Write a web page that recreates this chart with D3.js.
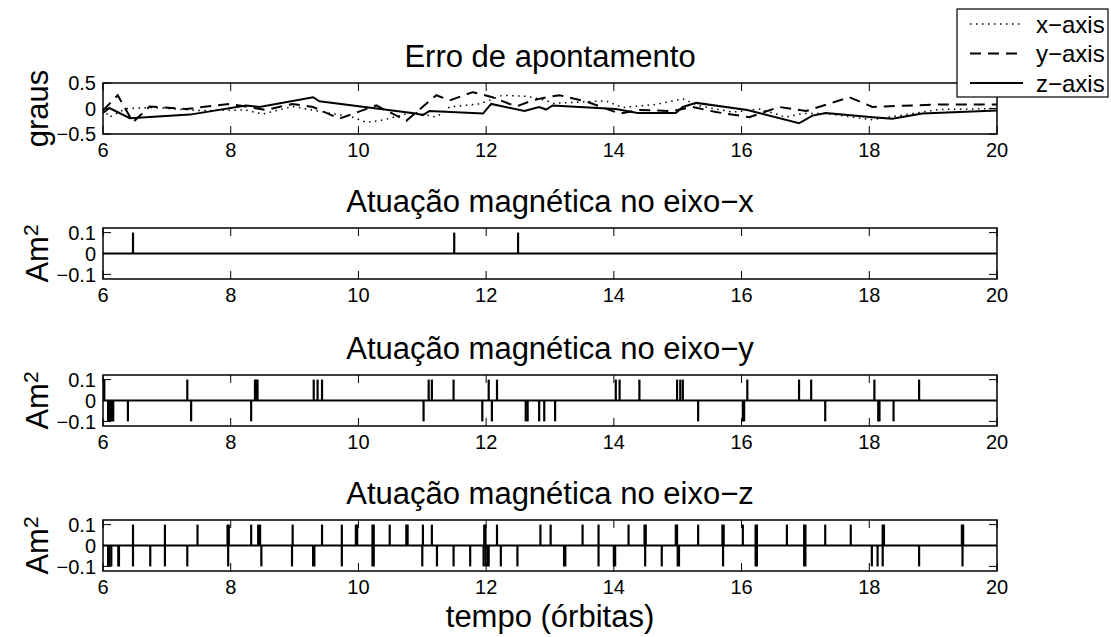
<!DOCTYPE html>
<html>
<head>
<meta charset="utf-8">
<script src="https://cdn.jsdelivr.net/npm/d3@7"></script>
<style>
  body { margin: 0; background: #fff; }
  text { font-family: "Liberation Sans", Arial, Helvetica, sans-serif; fill: #000; }
</style>
</head>
<body>
<div id="chart"></div>
<script>
// ---- data ----
const xTicks = [6, 8, 10, 12, 14, 16, 18, 20];
const errTicks = [-0.5, 0, 0.5];
const actTicks = [-0.1, 0, 0.1];
const seriesNames = ["x\u2212axis", "y\u2212axis", "z\u2212axis"];

// pointing error (graus), [tempo, valor]
const errX = [[6, 0], [6.10, -0.17], [6.36, 0], [6.78, 0.02], [7.51, -0.04], [8.24, -0.03], [8.50, -0.11],
  [8.97, 0.04], [9.50, -0.08], [9.91, -0.17], [10.12, -0.27], [10.33, -0.24], [10.59, -0.16], [10.85, -0.07],
  [11.22, -0.17], [11.43, 0.03], [11.90, 0.09], [12.26, 0.26], [12.63, 0.24], [12.94, 0.16], [13.04, 0.10],
  [13.87, 0.15], [14.14, 0.02], [14.66, 0.08], [15.08, 0.19], [15.34, 0.05], [15.86, -0.07], [16.29, -0.01],
  [16.69, -0.17], [16.95, -0.10], [17.32, -0.10], [18.05, -0.22], [18.36, -0.16], [19.09, -0.02], [20, 0]];
const errY = [[6, -0.04], [6.23, 0.26], [6.47, -0.27], [6.73, 0.04], [7.30, -0.01], [7.98, 0.09], [8.24, 0.04],
  [8.55, -0.03], [8.97, 0.09], [9.29, 0.03], [9.70, -0.20], [10.28, 0.06], [10.75, -0.24], [11.22, 0.26],
  [11.43, 0.16], [11.79, 0.32], [12.10, 0.22], [12.47, 0.04], [12.73, 0.16], [12.94, 0.22], [13.15, 0.26],
  [13.56, 0.14], [14.09, -0.10], [14.40, -0.03], [14.92, -0.05], [15.23, 0.03], [15.60, -0.07], [16.12, -0.17],
  [16.59, 0.03], [17.01, -0.05], [17.69, 0.22], [18.05, 0.03], [19.09, 0.08], [20, 0.08]];
const errZ = [[6, -0.09], [6.10, 0.01], [6.42, -0.19], [7.36, -0.12], [8.24, 0.06], [8.45, 0.03], [9.29, 0.22],
  [9.39, 0.14], [10.90, -0.10], [11.01, -0.13], [11.11, -0.05], [11.95, -0.10], [12.08, 0.09], [12.60, -0.05],
  [12.83, 0.03], [12.94, -0.02], [13.04, 0.06], [14.03, -0.01], [14.37, -0.09], [14.97, -0.09], [15.08, 0.03],
  [15.29, 0.11], [16.09, -0.03], [16.90, -0.29], [17.11, -0.14], [17.32, -0.09], [18.05, -0.17], [18.36, -0.20],
  [18.83, -0.10], [20, -0.04]];

// magnetic actuation pulses (Am^2): instants of +0.1 and -0.1
const magXUp = [6.47, 11.5, 12.5];
const magXDown = [];
const magYUp = [6.02, 7.32, 8.38, 8.40, 8.42, 9.30, 9.36, 9.43, 11.10, 11.15, 11.49, 12.04, 12.17, 14.03, 14.09,
  14.40, 14.99, 15.04, 15.08, 16.09, 16.90, 17.09, 18.08, 18.78];
const magYDown = [6.08, 6.11, 6.14, 6.16, 6.39, 7.38, 8.32, 11.02, 11.94, 12.09, 12.62, 12.65, 12.83, 12.91, 13.08,
  15.32, 16.02, 16.04, 17.31, 18.14, 18.16, 18.38];
const magZUp = [6.47, 6.97, 7.48, 7.95, 7.97, 8.32, 8.43, 8.46, 8.97, 9.43, 9.74, 9.96, 9.98, 10.22, 10.24, 10.49,
  10.75, 10.77, 11.01, 11.15, 11.97, 11.99, 12.17, 12.85, 13.01, 13.51, 13.76, 14.23, 14.48, 14.50, 14.97, 14.99,
  15.32, 15.70, 15.72, 16.02, 16.22, 16.24, 16.71, 16.98, 17.00, 17.31, 17.71, 18.21, 18.23, 19.45, 19.47];
const magZDown = [6.08, 6.10, 6.13, 6.24, 6.25, 6.47, 6.74, 6.97, 7.32, 7.96, 8.48, 8.96, 9.29, 9.31, 9.74, 10.22,
  10.24, 11.00, 11.23, 11.49, 11.75, 11.96, 11.99, 12.02, 12.04, 12.23, 12.49, 13.22, 13.24, 13.76, 14.00, 14.02,
  14.49, 14.75, 15.00, 15.02, 15.71, 16.22, 16.24, 16.98, 17.00, 18.04, 18.13, 18.21, 18.78, 19.46];

// ---- layout ----
const width = 1111, height = 637;
const left = 103, right = 997, boxH = 51;
const tickLen = 8;

const svg = d3.select("#chart").append("svg")
  .attr("width", width)
  .attr("height", height);

const x = d3.scaleLinear().domain([6, 20]).range([left, right]);

const panels = [
  { top: 83, title: "Erro de apontamento", ylabel: "graus", domain: [-0.5, 0.5], ticks: errTicks },
  { top: 228, title: "Atua\u00e7\u00e3o magn\u00e9tica no eixo\u2212x", ylabel: "Am", domain: [-0.122, 0.122], ticks: actTicks, up: magXUp, down: magXDown },
  { top: 375, title: "Atua\u00e7\u00e3o magn\u00e9tica no eixo\u2212y", ylabel: "Am", domain: [-0.122, 0.122], ticks: actTicks, up: magYUp, down: magYDown },
  { top: 520, title: "Atua\u00e7\u00e3o magn\u00e9tica no eixo\u2212z", ylabel: "Am", domain: [-0.122, 0.122], ticks: actTicks, up: magZUp, down: magZDown }
];

const minusFmt = v => (v < 0 ? "\u2212" : "") + Math.abs(v);

panels.forEach((p, i) => {
  const y = d3.scaleLinear().domain(p.domain).range([p.top + boxH, p.top]);
  const g = svg.append("g");

  // ticks (inside, on all four sides like matlab's box on)
  xTicks.forEach(t => {
    g.append("line").attr("x1", x(t)).attr("x2", x(t))
      .attr("y1", p.top + boxH).attr("y2", p.top + boxH - tickLen)
      .attr("stroke", "#000").attr("stroke-width", 1);
    g.append("line").attr("x1", x(t)).attr("x2", x(t))
      .attr("y1", p.top).attr("y2", p.top + tickLen)
      .attr("stroke", "#000").attr("stroke-width", 1);
    g.append("text").attr("x", x(t)).attr("y", p.top + boxH + 23)
      .attr("text-anchor", "middle").style("font-size", "20px").text(t);
  });
  p.ticks.forEach(v => {
    g.append("line").attr("x1", left).attr("x2", left + tickLen)
      .attr("y1", y(v)).attr("y2", y(v)).attr("stroke", "#000").attr("stroke-width", 1);
    g.append("line").attr("x1", right).attr("x2", right - tickLen)
      .attr("y1", y(v)).attr("y2", y(v)).attr("stroke", "#000").attr("stroke-width", 1);
    g.append("text").attr("x", left - 7).attr("y", y(v)).attr("dy", "0.36em")
      .attr("text-anchor", "end").style("font-size", "20px").text(minusFmt(v));
  });

  const clipId = "clip" + i;
  svg.append("clipPath").attr("id", clipId).append("rect")
    .attr("x", left).attr("y", p.top).attr("width", right - left).attr("height", boxH);
  const plot = g.append("g").attr("clip-path", `url(#${clipId})`);

  if (i === 0) {
    const line = d3.line().x(d => x(d[0])).y(d => y(d[1]));
    plot.append("path").datum(errX).attr("d", line).attr("fill", "none")
      .attr("stroke", "#000").attr("stroke-width", 1.5).attr("stroke-dasharray", "1.5,4.5");
    plot.append("path").datum(errY).attr("d", line).attr("fill", "none")
      .attr("stroke", "#000").attr("stroke-width", 2).attr("stroke-dasharray", "11,7");
    plot.append("path").datum(errZ).attr("d", line).attr("fill", "none")
      .attr("stroke", "#000").attr("stroke-width", 2);
  } else {
    plot.append("line").attr("x1", x(6)).attr("x2", x(20))
      .attr("y1", y(0)).attr("y2", y(0)).attr("stroke", "#000").attr("stroke-width", 2);
    const pulses = p.up.map(t => [t, 0.1]).concat(p.down.map(t => [t, -0.1]));
    plot.selectAll(".pulse").data(pulses).enter().append("line")
      .attr("x1", d => x(d[0])).attr("x2", d => x(d[0]))
      .attr("y1", y(0)).attr("y2", d => y(d[1]))
      .attr("stroke", "#000").attr("stroke-width", 2.2);
  }

  // box
  g.append("rect").attr("x", left).attr("y", p.top).attr("width", right - left).attr("height", boxH)
    .attr("fill", "none").attr("stroke", "#000").attr("stroke-width", 1.5);

  // title
  g.append("text").attr("x", (left + right) / 2).attr("y", p.top - 16)
    .attr("text-anchor", "middle").style("font-size", "31px").text(p.title);

  // y label
  const yl = g.append("text")
    .attr("transform", `translate(48,${p.top + boxH / 2}) rotate(-90)`)
    .attr("text-anchor", "middle").style("font-size", "31px");
  yl.append("tspan").text(p.ylabel);
  if (i > 0) yl.append("tspan").attr("dy", "-0.5em").style("font-size", "21px").text("2");
});

// x label
svg.append("text").attr("x", (left + right) / 2).attr("y", 627)
  .attr("text-anchor", "middle").style("font-size", "31px").text("tempo (\u00f3rbitas)");

// legend
const legend = svg.append("g");
legend.append("rect").attr("x", 957).attr("y", 9).attr("width", 151).attr("height", 88)
  .attr("fill", "#fff").attr("stroke", "#000").attr("stroke-width", 1.2);
const dashes = ["1.5,4.5", "11,7", null];
seriesNames.forEach((name, k) => {
  const cy = 24 + k * 29.5;
  const l = legend.append("line").attr("x1", 970).attr("x2", 1023).attr("y1", cy).attr("y2", cy)
    .attr("stroke", "#000").attr("stroke-width", k === 0 ? 1.5 : 2);
  if (dashes[k]) l.attr("stroke-dasharray", dashes[k]);
  legend.append("text").attr("x", 1036).attr("y", cy).attr("dy", "0.36em")
    .style("font-size", "24px").text(name);
});
</script>
</body>
</html>
